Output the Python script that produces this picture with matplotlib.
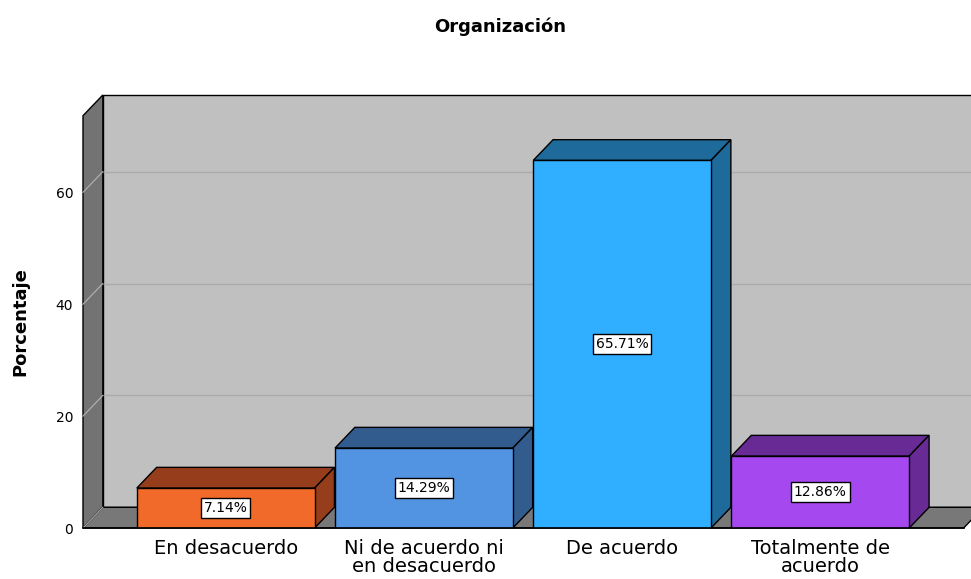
import numpy as np
import matplotlib.pyplot as plt
from matplotlib.patches import Polygon

categories = ['En desacuerdo', 'Ni de acuerdo ni\nen desacuerdo', 'De acuerdo', 'Totalmente de\nacuerdo']
porcentaje = [7.14, 14.29, 65.71, 12.86]
etiquetas = ['7.14%', '14.29%', '65.71%', '12.86%']
col_frente = ['#F26A2A', '#5294E2', '#30AEFF', '#A548F0']
col_lado = ['#963D1B', '#325B8E', '#1E6A9B', '#682A94']

# profundidad del efecto 3D (unidades de datos)
dx, dy = 0.1, 3.7
x0, x1 = -0.72, 3.76
xe = 3.723  # fin del suelo
ytop = 73.7
ancho = 0.897

fig = plt.figure(figsize=(9.71, 5.79), dpi=100)
ax = fig.add_axes([83/971, 51/579, 888/971, 433/579])
ax.set_xlim(x0, x1)
ax.set_ylim(0, ytop + dy)
for s in ax.spines.values():
    s.set_visible(False)

# paredes
ax.add_patch(Polygon([(x0 + dx, dy), (xe + dx, dy), (xe + dx, ytop + dy), (x0 + dx, ytop + dy)],
                     closed=True, facecolor='#C0C0C0', edgecolor='black', lw=1, zorder=0, clip_on=False))
ax.add_patch(Polygon([(x0, 0), (x0 + dx, dy), (x0 + dx, ytop + dy), (x0, ytop)],
                     closed=True, facecolor='#737373', edgecolor='black', lw=1, zorder=1, clip_on=False))
ax.add_patch(Polygon([(x0, 0), (x0 + dx, dy), (xe + dx, dy), (xe, 0)],
                     closed=True, facecolor='#787878', edgecolor='black', lw=1, zorder=1, clip_on=False))

for v in [20, 40, 60]:
    ax.plot([x0 + dx, xe + dx], [v + dy, v + dy], color='#ABABAB', lw=1, zorder=0.5, clip_on=False)
    ax.plot([x0, x0 + dx], [v, v + dy], color='#B4B4B4', lw=0.8, zorder=1.5, clip_on=False)
ax.plot([x0, x0 + dx], [0, dy], color='#B4B4B4', lw=0.8, zorder=1.5)

# barras
xs = np.arange(len(categories))
for i, v in enumerate(porcentaje):
    l, r = xs[i] - ancho/2, xs[i] + ancho/2
    ax.add_patch(Polygon([(l, v), (l + dx, v + dy), (r + dx, v + dy), (r, v)],
                         closed=True, facecolor=col_lado[i], edgecolor='black', lw=1, zorder=3))
    ax.add_patch(Polygon([(r, 0), (r + dx, dy), (r + dx, v + dy), (r, v)],
                         closed=True, facecolor=col_lado[i], edgecolor='black', lw=1, zorder=3))
ax.bar(xs, porcentaje, width=ancho, color=col_frente, edgecolor='black', lw=1, zorder=4)
ax.plot([x0, xe], [0, 0], color='black', lw=1.2, zorder=5, clip_on=False)

for i, v in enumerate(porcentaje):
    ax.text(xs[i], v/2, etiquetas[i], ha='center', va='center', fontsize=10, zorder=6,
            bbox=dict(boxstyle='square,pad=0.2', facecolor='white', edgecolor='black', lw=1))

ax.set_yticks([0, 20, 40, 60])
ax.tick_params(axis='y', length=0, pad=7, labelsize=10)
ax.set_xticks(xs)
ax.set_xticklabels(categories, fontsize=14, linespacing=0.95)
ax.tick_params(axis='x', length=0, pad=8)

fig.text(20/971, 1 - 322/579, 'Porcentaje', rotation=90, ha='center', va='center',
         fontsize=13, fontweight='bold')
fig.text(500/971, 1 - 27/579, 'Organización', ha='center', va='center', fontsize=13, fontweight='bold')

fig.savefig('out.png', dpi=100)
